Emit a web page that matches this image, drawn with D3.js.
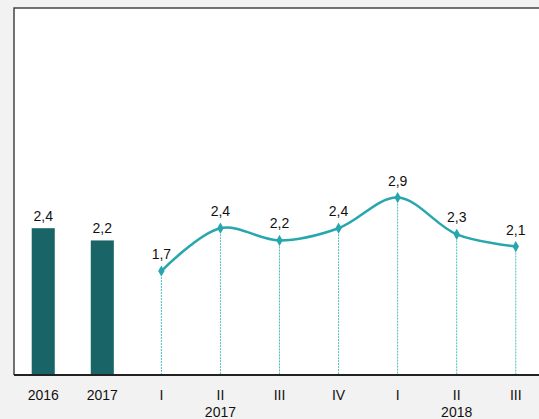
<!DOCTYPE html>
<html>
<head>
<meta charset="utf-8">
<script src="https://cdn.jsdelivr.net/npm/d3@7"></script>
<style>
  body { margin: 0; background: #f2f2f2; }
  text { font-family: "Liberation Sans Narrow", "Liberation Sans", Arial, sans-serif; fill: #111; font-size: 14px; }
</style>
</head>
<body>
<svg id="chart" width="539" height="419"></svg>
<script>
// categories along the x axis
var categories = ['2016', '2017', 'q1_17', 'q2_17', 'q3_17', 'q4_17', 'q1_18', 'q2_18', 'q3_18'];
var tickLabels = ['2016', '2017', 'I', 'II', 'III', 'IV', 'I', 'II', 'III'];

// annual bars
var barKeys = ['2016', '2017'];
var barValues = [2.4, 2.2];

// quarterly line
var lineKeys = ['q1_17', 'q2_17', 'q3_17', 'q4_17', 'q1_18', 'q2_18', 'q3_18'];
var lineValues = [1.7, 2.4, 2.2, 2.4, 2.9, 2.3, 2.1];

// year labels under the quarters
var yearKeys = ['q2_17', 'q2_18'];
var yearLabels = ['2017', '2018'];

var fmt = function (v) { return d3.format('.1f')(v).replace('.', ','); };

var svg = d3.select('#chart');
var plot = { left: 14, top: 8, bottom: 375, right: 539 };

var xScale = d3.scaleBand()
  .domain(categories)
  .range([plot.left, 545])
  .paddingInner(0.61)
  .paddingOuter(0.3);

var yScale = d3.scaleLinear()
  .domain([0, 6])
  .range([plot.bottom, plot.top]);

var cx = function (k) { return xScale(k) + xScale.bandwidth() / 2; };

// white plot area
svg.append('rect')
  .attr('x', plot.left)
  .attr('y', plot.top)
  .attr('width', plot.right - plot.left)
  .attr('height', plot.bottom - plot.top)
  .attr('fill', '#fff');

// frame (top + left)
svg.append('path')
  .attr('d', 'M' + plot.left + ',' + plot.bottom + 'V' + plot.top + 'H' + plot.right)
  .attr('fill', 'none')
  .attr('stroke', '#444')
  .attr('stroke-width', 1.5);

// bars
svg.selectAll('.bar')
  .data(barKeys)
  .enter()
  .append('rect')
  .attr('class', 'bar')
  .attr('x', function (d) { return xScale(d); })
  .attr('width', xScale.bandwidth())
  .attr('y', function (d, i) { return yScale(barValues[i]); })
  .attr('height', function (d, i) { return plot.bottom - yScale(barValues[i]); })
  .attr('fill', '#196466');

svg.selectAll('.barLabel')
  .data(barKeys)
  .enter()
  .append('text')
  .attr('class', 'barLabel')
  .attr('x', function (d) { return cx(d); })
  .attr('y', function (d, i) { return yScale(barValues[i]) - 7; })
  .attr('text-anchor', 'middle')
  .text(function (d, i) { return fmt(barValues[i]); });

// drop lines
svg.selectAll('.drop')
  .data(lineKeys)
  .enter()
  .append('line')
  .attr('class', 'drop')
  .attr('x1', function (d) { return cx(d); })
  .attr('x2', function (d) { return cx(d); })
  .attr('y1', function (d, i) { return yScale(lineValues[i]); })
  .attr('y2', plot.bottom)
  .attr('stroke', '#4dbcc4')
  .attr('stroke-width', 1)
  .attr('stroke-dasharray', '2,1');

// smooth line
var line = d3.line()
  .x(function (d) { return cx(d); })
  .y(function (d, i) { return yScale(lineValues[i]); })
  .curve(d3.curveCatmullRom.alpha(0.5));

svg.append('path')
  .datum(lineKeys)
  .attr('d', line)
  .attr('fill', 'none')
  .attr('stroke', '#27a7ad')
  .attr('stroke-width', 2.5);

svg.selectAll('.marker')
  .data(lineKeys)
  .enter()
  .append('path')
  .attr('class', 'marker')
  .attr('d', d3.symbol().type(d3.symbolDiamond).size(36))
  .attr('transform', function (d, i) { return 'translate(' + cx(d) + ',' + yScale(lineValues[i]) + ')'; })
  .attr('fill', '#27a7ad');

svg.selectAll('.lineLabel')
  .data(lineKeys)
  .enter()
  .append('text')
  .attr('class', 'lineLabel')
  .attr('x', function (d) { return cx(d); })
  .attr('y', function (d, i) { return yScale(lineValues[i]) - 12; })
  .attr('text-anchor', 'middle')
  .text(function (d, i) { return fmt(lineValues[i]); });

// x axis
var axis = svg.append('g')
  .attr('class', 'x axis')
  .attr('transform', 'translate(0,' + plot.bottom + ')')
  .call(d3.axisBottom(xScale).tickSize(0).tickPadding(15)
    .tickFormat(function (d, i) { return tickLabels[i]; }));

axis.select('.domain')
  .attr('d', 'M' + plot.left + ',0H' + plot.right)
  .attr('stroke', '#222')
  .attr('stroke-width', 2);

axis.selectAll('text')
  .style('font-size', '14px')
  .style('font-family', '"Liberation Sans Narrow", "Liberation Sans", Arial, sans-serif')
  .attr('fill', '#111');

svg.selectAll('.yearLabel')
  .data(yearKeys)
  .enter()
  .append('text')
  .attr('class', 'yearLabel')
  .attr('x', function (d) { return cx(d); })
  .attr('y', 417)
  .attr('text-anchor', 'middle')
  .text(function (d, i) { return yearLabels[i]; });
</script>
</body>
</html>
